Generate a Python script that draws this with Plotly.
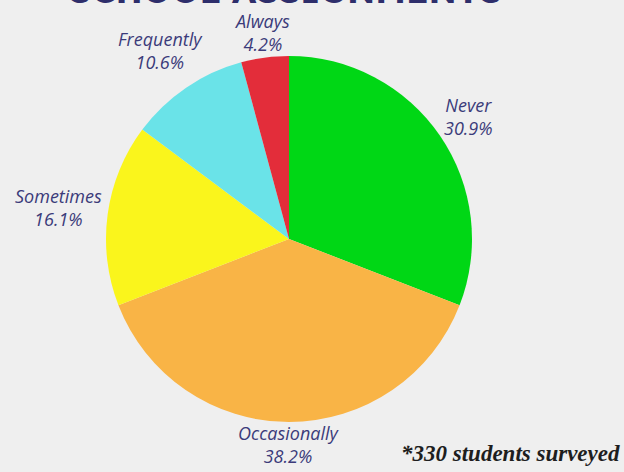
import math
import plotly.graph_objects as go

categories = ["Never", "Occasionally", "Sometimes", "Frequently", "Always"]
percentages = [30.9, 38.2, 16.1, 10.6, 4.2]
colors = ["#00d715", "#f9b446", "#faf51c", "#6ae3e8", "#e32d3a"]
title_text = "SCHOOL ASSIGNMENTS"
footnote = "*330 students surveyed"

W, H = 624, 472
# pie placement (pixels)
PX0, PX1, PY0, PY1 = 106, 472, 56, 422
CX, CY, R = (PX0 + PX1) / 2, (PY0 + PY1) / 2, (PX1 - PX0) / 2

fig = go.Figure(go.Pie(
    labels=categories,
    values=percentages,
    sort=False,
    direction="clockwise",
    rotation=0,
    marker=dict(colors=colors, line=dict(width=0)),
    textinfo="none",
    domain=dict(x=[PX0 / W, PX1 / W], y=[1 - PY1 / H, 1 - PY0 / H]),
    hoverinfo="label+percent",
    showlegend=False,
))

# outside labels, placed around the pie from the data
annotations = []
total = sum(percentages)
cum = 0.0
CHAR_W, HALF_H, GAP = 9.2, 15, 7
for lab, val in zip(categories, percentages):
    mid = (cum + val / 2) / total * 2 * math.pi
    cum += val
    s, c = math.sin(mid), math.cos(mid)
    txt2 = f"{val:.1f}%"
    hw = 0.5 * CHAR_W * max(len(lab), len(txt2))
    off = GAP + abs(s) * hw + abs(c) * HALF_H
    px = CX + (R + off) * s
    py = CY - (R + off) * c
    annotations.append(dict(
        text=f"<i>{lab}</i><br><i>{txt2}</i>", x=px / W, y=1 - py / H,
        xref="paper", yref="paper", xanchor="center", yanchor="middle",
        showarrow=False, align="center",
        font=dict(family="Open Sans, sans-serif", size=18, color="#3b3b7a"),
    ))

annotations.append(dict(
    text="<b>" + title_text + "</b>", x=285 / W, y=1.0, xref="paper", yref="paper",
    xanchor="center", yanchor="middle", yshift=10, showarrow=False,
    font=dict(family="Lexend, Inter, sans-serif", size=35, color="#2e2e6b")))
annotations.append(dict(
    text="<b><i>" + footnote + "</i></b>", x=1.0, y=0, xref="paper", yref="paper",
    xanchor="right", yanchor="bottom", xshift=-2, yshift=4, showarrow=False,
    font=dict(family="Liberation Serif, serif", size=23, color="#1e1e1e")))

fig.update_layout(
    width=W, height=H,
    margin=dict(l=0, r=0, t=0, b=0),
    paper_bgcolor="#efefef",
    plot_bgcolor="#efefef",
    annotations=annotations,
)

fig.write_html("out.html")
